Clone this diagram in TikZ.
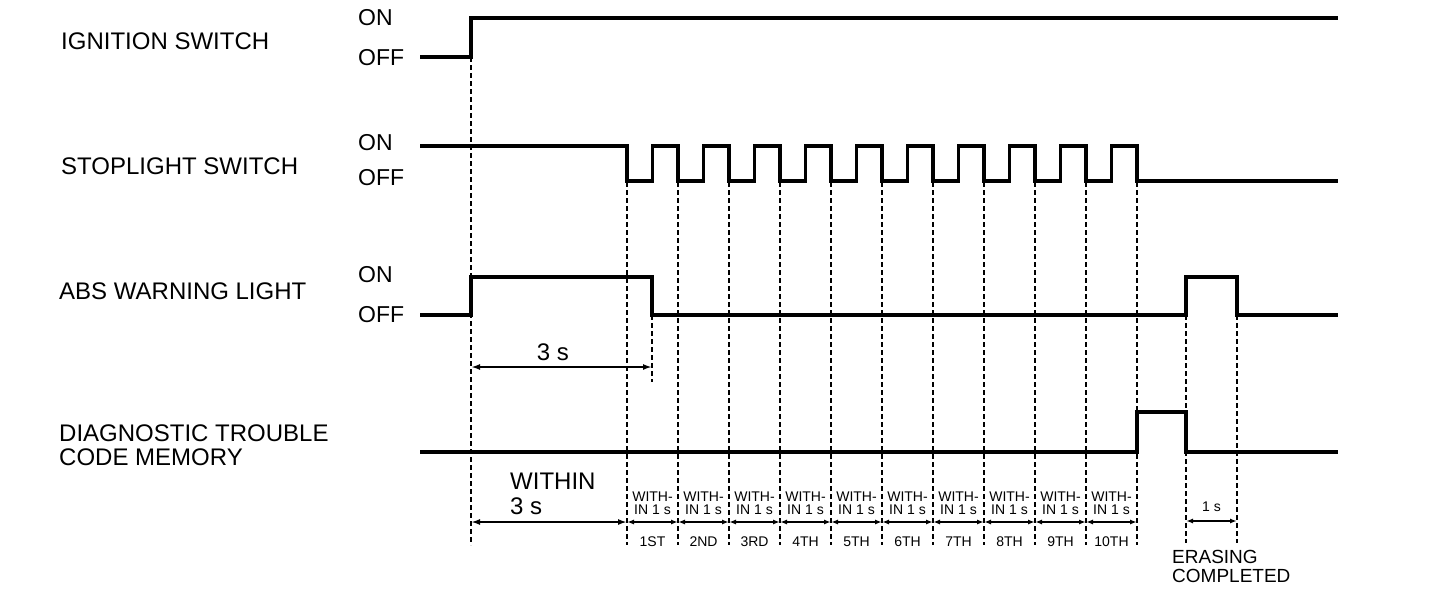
\documentclass[tikz,border=0pt]{standalone}
\usepackage{fontspec}
\setmainfont{Liberation Sans}
\usetikzlibrary{arrows.meta}
\begin{document}
\begin{tikzpicture}[x=1pt,y=-1pt,
  sig/.style={line width=3.2pt, line join=miter, line cap=rect},
  guide/.style={line width=1.2pt, dash pattern=on 5pt off 3pt},
  dimbig/.style={line width=2.5pt, {Latex[length=9pt,width=6pt]}-{Latex[length=9pt,width=6pt]}},
  dimsmall/.style={line width=2.2pt, {Latex[length=7pt,width=5pt]}-{Latex[length=7pt,width=5pt]}},
  big/.style={font=\fontsize{24}{24}\selectfont, inner sep=0pt, align=left},
  onoff/.style={font=\fontsize{23}{24}\selectfont, inner sep=0pt},
  mid/.style={font=\fontsize{19}{19}\selectfont, inner sep=0pt, align=left},
  small/.style={font=\fontsize{14}{13}\selectfont, inner sep=0pt, align=center}]
\useasboundingbox[fill=white] (0,0) rectangle (1440,590);

% left labels
\node[big,anchor=west] (lign) at (61,41) {IGNITION SWITCH};
\node[big,anchor=west] (lstop) at (61,166) {STOPLIGHT SWITCH};
\node[big,anchor=west] (labs) at (59,291) {ABS WARNING LIGHT};
\node[big,anchor=west] (ldtc) at (59,445) {DIAGNOSTIC TROUBLE\\CODE MEMORY};

% ON / OFF labels
\node[onoff,anchor=west] (ign-on) at (358,18) {ON};
\node[onoff,anchor=west] (ign-off) at (358,58) {OFF};
\node[onoff,anchor=west] (stop-on) at (358,143) {ON};
\node[onoff,anchor=west] (stop-off) at (358,178) {OFF};
\node[onoff,anchor=west] (abs-on) at (358,275) {ON};
\node[onoff,anchor=west] (abs-off) at (358,315) {OFF};

% guide lines (dashed)
\draw[guide] (471,57) -- (471,545);
\foreach \k in {0,...,10}{
  \draw[guide] ({627+51*\k},182) -- ({627+51*\k},545);
}
\draw[guide] (652,315) -- (652,382);
\draw[guide] (1186,315) -- (1186,543);
\draw[guide] (1237,315) -- (1237,543);

% ignition switch
\draw[sig] (422,57) -- (471,57) -- (471,18) -- (1336,18);

% stoplight switch
\draw[sig] (422,146) -- (627,146) -- (627,181)
  \foreach \k in {0,...,9}{
    -- ({627+51*\k+25.5},181) -- ({627+51*\k+25.5},146)
    -- ({627+51*(\k+1)},146) -- ({627+51*(\k+1)},181)
  } -- (1336,181);

% ABS warning light
\draw[sig] (422,315) -- (471,315) -- (471,277) -- (652,277) -- (652,315)
  -- (1186,315) -- (1186,277) -- (1237,277) -- (1237,315) -- (1336,315);

% DTC memory
\draw[sig] (422,452) -- (1137,452) -- (1137,412) -- (1186,412) -- (1186,452) -- (1336,452);

% 3 s dimension
\coordinate (a3l) at (471,367);
\coordinate (a3r) at (652,367);
\draw[dimbig] (a3l) -- (a3r);
\node[big] (t3s) at (553,352) {3 s};

% WITHIN 3 s dimension
\coordinate (w3l) at (471,522);
\coordinate (w3r) at (627,522);
\draw[dimbig] (w3l) -- (w3r);
\node[big,anchor=west] (twithin) at (510,481) {WITHIN};
\node[big,anchor=west] (tw3s) at (510,506) {3 s};

% within 1 s cells
\foreach \k/\o in {0/1ST,1/2ND,2/3RD,3/4TH,4/5TH,5/6TH,6/7TH,7/8TH,8/9TH,9/10TH}{
  \coordinate (cl\k) at ({627+51*\k},522);
  \coordinate (cr\k) at ({627+51*(\k+1)},522);
  \draw[dimsmall] (cl\k) -- (cr\k);
  \node[small] (cw\k) at ({627+51*\k+25.5},503) {WITH-\\IN 1 s};
  \node[small] (co\k) at ({627+51*\k+25.5},542) {\o};
}

% 1 s erasing
\coordinate (e1l) at (1186,521);
\coordinate (e1r) at (1237,521);
\draw[dimsmall] (e1l) -- (e1r);
\node[small] (t1s) at (1211.5,507) {1 s};
\node[mid,anchor=west] (terase) at (1172,566) {ERASING\\COMPLETED};
\end{tikzpicture}
\end{document}
